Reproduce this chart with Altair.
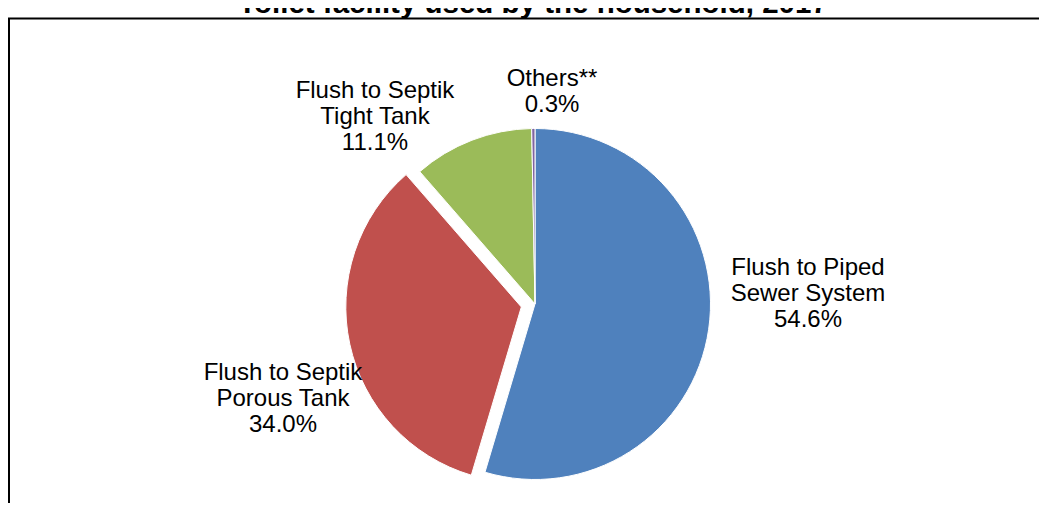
import math
import altair as alt
import pandas as pd

# ---- data ----
categories = ["Flush to Piped Sewer System", "Flush to Septik Porous Tank",
              "Flush to Septik Tight Tank", "Others**"]
label_names = ["Flush to Piped\nSewer System", "Flush to Septik\nPorous Tank",
               "Flush to Septik\nTight Tank", "Others**"]
values = [54.6, 34.0, 11.1, 0.3]
colors = ["#4F81BD", "#C0504D", "#9BBB59", "#8064A2"]
title_text = "Toilet facility used by the household, 2017"

# ---- layout (svg coordinates) ----
W, H = 1031, 495
cx, cy, R = 527, 296, 175.5
explode_idx = 1
explode_px = 14
label_pos = [(800, 260), (275, 365), (367, 83), (544, 71)]  # first-line centres
FONT = "Liberation Sans"

df = pd.DataFrame({
    "category": categories,
    "value": values,
    "order": list(range(len(categories))),
    "label": [f"{n}\n{v:.1f}%" for n, v in zip(label_names, values)],
})

total = sum(values)
start_exp = sum(values[:explode_idx])
mid = (start_exp + values[explode_idx] / 2) / total * 2 * math.pi
ex_dx = explode_px * math.sin(mid)
ex_dy = -explode_px * math.cos(mid)

base = alt.Chart(df).transform_window(
    cum="sum(value)", sort=[alt.SortField("order")], frame=[None, 0]
).transform_calculate(start="datum.cum - datum.value")

color = alt.Color("category:N", scale=alt.Scale(domain=categories, range=colors), legend=None)
theta = alt.Theta("start:Q", scale=alt.Scale(domain=[0, total]))

pie_main = base.transform_filter(f"datum.order != {explode_idx}").mark_arc(
    radius=R, stroke="white", strokeWidth=1
).encode(theta=theta, theta2="cum:Q", color=color, x=alt.value(cx), y=alt.value(cy))

pie_exp = base.transform_filter(f"datum.order == {explode_idx}").mark_arc(
    radius=R, stroke="white", strokeWidth=1
).encode(theta=theta, theta2="cum:Q", color=color,
         x=alt.value(cx + ex_dx), y=alt.value(cy + ex_dy))

labels = []
for i, (lx, ly) in enumerate(label_pos):
    labels.append(
        alt.Chart(df).transform_filter(f"datum.order == {i}").mark_text(
            font=FONT, fontSize=24, lineHeight=26, align="center", baseline="middle",
            lineBreak="\n", color="black"
        ).encode(text="label:N", x=alt.value(lx), y=alt.value(ly))
    )

one = pd.DataFrame({"t": [title_text]})
border = alt.Chart(one).mark_rect(filled=False, stroke="black", strokeWidth=2).encode(
    x=alt.value(1), x2=alt.value(W + 60), y=alt.value(10.5), y2=alt.value(H + 60)
)
title = alt.Chart(one).mark_text(
    font=FONT, fontSize=29.5, fontWeight="bold", align="center", baseline="alphabetic", color="black"
).encode(text="t:N", x=alt.value(525), y=alt.value(5))

chart = alt.layer(border, pie_main, pie_exp, *labels, title).properties(
    width=W, height=H, autosize="none", padding=0
).configure_view(strokeWidth=0)

chart.save("out.html", embed_options={"renderer": "svg", "actions": False})
